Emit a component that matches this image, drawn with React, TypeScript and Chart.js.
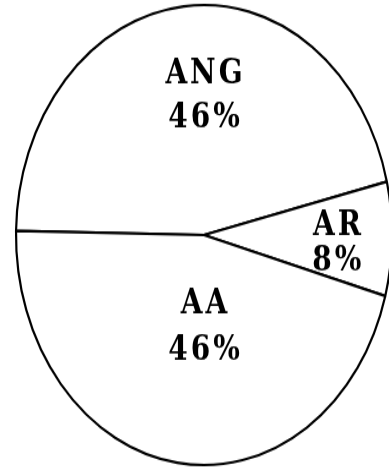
import React, { useEffect, useRef } from "react";
import { Chart, registerables } from "chart.js";
Chart.register(...registerables);

const categories = ["ANG", "AR", "AA"];
const values = [46, 8, 46];

const STRETCH_Y = 1.2234;
// label block centre (fractions of the pie radius) and half line spacing (px, before stretch)
const LABEL_SPOTS = [
  [0.0, -0.617, 18.4],
  [0.707, 0.022, 14.5],
  [0.0, 0.389, 18.8],
];

export default function App() {
  const ref = useRef<HTMLCanvasElement>(null);
  useEffect(() => {
    document.body.style.margin = "0";
    document.body.style.overflow = "hidden";
    document.body.style.background = "#fff";
    const total = values.reduce((a, b) => a + b, 0);
    const labelPlugin = {
      id: "sliceLabels",
      afterDatasetsDraw(chart: any) {
        const ctx = chart.ctx;
        const meta = chart.getDatasetMeta(0);
        ctx.save();
        ctx.fillStyle = "#000";
        ctx.textAlign = "center";
        ctx.textBaseline = "alphabetic";
        ctx.font = 'bold 28px "DejaVu Serif"';
        try {
          (ctx as any).letterSpacing = "3px";
        } catch (e) {}
        meta.data.forEach((arc: any, i: number) => {
          const { x, y, outerRadius } = arc.getProps(["x", "y", "outerRadius"], true);
          const [fx, fy, gap] = LABEL_SPOTS[i];
          const lx = x + fx * outerRadius + 1.5;
          const ly = y + fy * outerRadius;
          const capHalf = 10;
          ctx.fillText(categories[i], lx, ly - gap + capHalf);
          ctx.fillText(Math.round((values[i] / total) * 100) + "%", lx, ly + gap + capHalf);
        });
        ctx.restore();
      },
    };
    const chart = new Chart(ref.current as HTMLCanvasElement, {
      type: "pie",
      data: {
        labels: categories,
        datasets: [
          {
            data: values,
            backgroundColor: "#fff",
            borderColor: "#000",
            borderWidth: 2.2,
            radius: 188,
            clip: false,
          } as any,
        ],
      },
      options: {
        animation: false,
        responsive: true,
        maintainAspectRatio: false,
        rotation: -89,
        layout: { padding: { left: 0, right: 12, top: 2, bottom: 0 } },
        plugins: { legend: { display: false }, tooltip: { enabled: false } },
        events: [],
      } as any,
      plugins: [labelPlugin],
    });
    return () => chart.destroy();
  }, []);
  return (
    <div
      style={{
        position: "fixed",
        left: 0,
        top: 0,
        width: 389,
        height: 468,
        overflow: "hidden",
        background: "#fff",
      }}
    >
      <div
        style={{
          position: "absolute",
          left: 0,
          top: 0,
          width: 420,
          height: 468,
          transform: `scale(1, ${STRETCH_Y})`,
          transformOrigin: "204px 235px",
        }}
      >
        <canvas ref={ref} />
      </div>
    </div>
  );
}
